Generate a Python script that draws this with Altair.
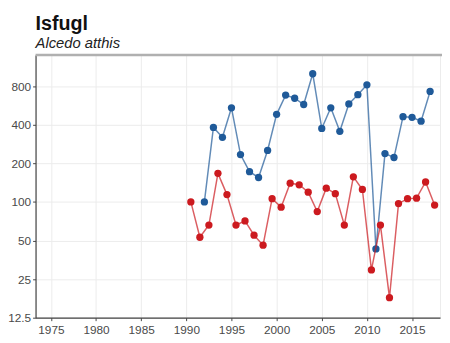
import altair as alt
import pandas as pd

# Blue series (one point per year)
blue_years = list(range(1992, 2018))
blue_values = [100, 381, 319, 542, 234, 172, 155, 252, 482, 681,
               643, 575, 999, 374, 542, 355, 581, 686, 819, 43,
               238, 222, 462, 457, 426, 727]

# Red series (season values, plotted half a year later)
red_years = list(range(1990, 2018))
red_values = [100, 53, 66, 167, 114, 66, 71, 55, 46, 106,
              91, 140, 136, 119, 84, 128, 116, 66, 157, 125,
              29.5, 66, 17.9, 97, 106, 107, 143, 94.5]
red_offset = 0.5

x_ticks = [1975, 1980, 1985, 1990, 1995, 2000, 2005, 2010, 2015]
y_ticks = [12.5, 25, 50, 100, 200, 400, 800]

blue_col = "#1f5a99"
red_col = "#cc1a1f"

blue_df = pd.DataFrame({"year": blue_years, "value": blue_values})
blue_df["x"] = blue_df["year"]
red_df = pd.DataFrame({"year": red_years, "value": red_values})
red_df["x"] = red_df["year"] + red_offset

W, H = 411, 267

xs = alt.Scale(domain=[1973.3, 2018.1], nice=False, zero=False)
ys = alt.Scale(type="log", base=2, domain=[12.5, 1400], nice=False)

xax = alt.Axis(values=x_ticks, format="d", title=None, tickSize=3, labelPadding=4)
yax = alt.Axis(values=y_ticks, format="~g", title=None, tickSize=3, labelPadding=2)


def series(df, col):
    base = alt.Chart(df).encode(
        x=alt.X("x:Q", scale=xs, axis=xax),
        y=alt.Y("value:Q", scale=ys, axis=yax),
    )
    line = base.mark_line(color=col, strokeWidth=1.5, opacity=0.7, clip=True)
    pts = base.mark_circle(color=col, size=55, opacity=1, clip=True)
    return line + pts


top_rule = alt.Chart(pd.DataFrame({"a": [0]})).mark_rule(
    color="#b0b0b0", strokeWidth=2.5
).encode(y=alt.value(0), x=alt.value(0), x2=alt.value(W + 4))

chart = alt.layer(
    series(blue_df, blue_col),
    series(red_df, red_col),
    top_rule,
).properties(
    width=W,
    height=H,
    title=alt.TitleParams(
        text="Isfugl",
        subtitle="Alcedo atthis",
        anchor="start",
        frame="group",
        font="Liberation Sans",
        fontSize=20,
        fontWeight="bold",
        color="#111111",
        subtitleFont="Liberation Sans",
        subtitleFontSize=15,
        subtitleFontStyle="italic",
        subtitleColor="#222222",
        subtitlePadding=2,
        offset=3,
    ),
    autosize=alt.AutoSizeParams(type="none"),
    padding={"left": 28, "top": 45, "right": 2, "bottom": 22},
).configure_view(
    stroke="#ececec"
).configure_axis(
    labelFont="Liberation Sans",
    labelFontSize=12,
    labelColor="#4a4a4a",
    domainColor="#444444",
    domainWidth=1.2,
    tickColor="#444444",
    gridColor="#ececec",
    gridWidth=1,
)

chart.save("out.html", embed_options={"renderer": "svg", "actions": False})
